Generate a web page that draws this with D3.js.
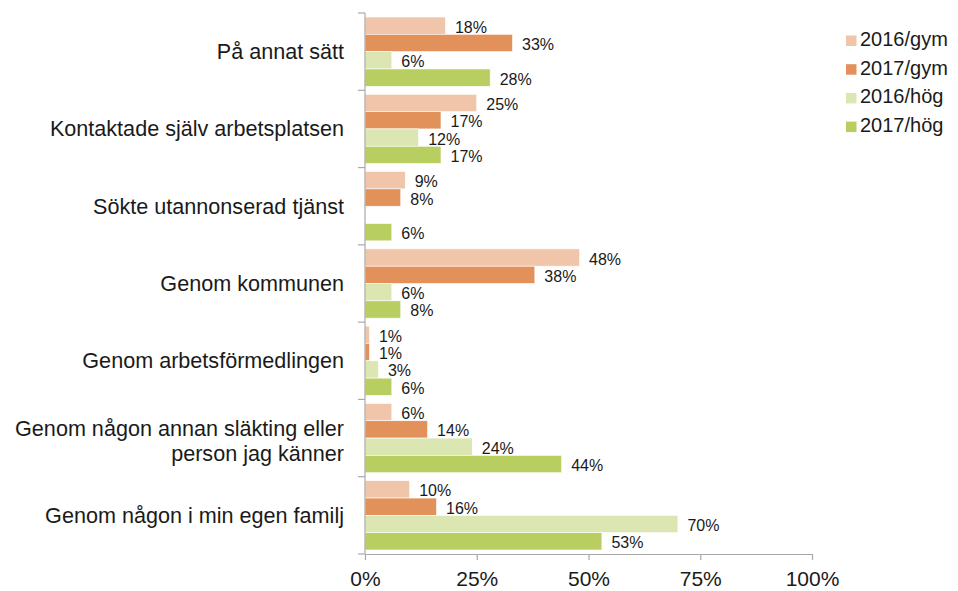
<!DOCTYPE html>
<html>
<head>
<meta charset="utf-8">
<script src="https://cdn.jsdelivr.net/npm/d3@7"></script>
<style>
  html, body { margin: 0; padding: 0; background: #fff; }
  svg { display: block; font-family: Arial, "Liberation Sans", sans-serif; }
</style>
</head>
<body>
<svg id="chart" width="958" height="591"></svg>
<script>
// Categories (top to bottom) and their label lines
const categories = [
  "På annat sätt",
  "Kontaktade själv arbetsplatsen",
  "Sökte utannonserad tjänst",
  "Genom kommunen",
  "Genom arbetsförmedlingen",
  "Genom någon annan släkting eller person jag känner",
  "Genom någon i min egen familj"
];
const categoryLines = [
  ["På annat sätt"],
  ["Kontaktade själv arbetsplatsen"],
  ["Sökte utannonserad tjänst"],
  ["Genom kommunen"],
  ["Genom arbetsförmedlingen"],
  ["Genom någon annan släkting eller", "person jag känner"],
  ["Genom någon i min egen familj"]
];

const seriesNames = ["2016/gym", "2017/gym", "2016/hög", "2017/hög"];
const seriesColors = ["#F1C5A9", "#E2915A", "#DCE6B2", "#B9CE61"];

// Percent per category, one array per series (null = no bar)
const gym2016 = [18, 25, 9, 48, 1, 6, 10];
const gym2017 = [33, 17, 8, 38, 1, 14, 16];
const hog2016 = [6, 12, null, 6, 3, 24, 70];
const hog2017 = [28, 17, 6, 8, 6, 44, 53];
const seriesValues = [gym2016, gym2017, hog2016, hog2017];

const xTicks = [0, 25, 50, 75, 100];

const svg = d3.select("#chart");
const axisColor = "#A9A9A9";

const x = d3.scaleLinear().domain([0, 100]).range([365, 812]);
const y = d3.scaleBand().domain(categories).range([13, 554]).padding(0);
const inner = d3.scaleBand().domain(seriesNames)
  .range([4, y.bandwidth() - 4]).padding(0);

// Bars and value labels
const rows = [];
categories.forEach((c, ci) => {
  seriesNames.forEach((s, si) => {
    const v = seriesValues[si][ci];
    if (v !== null) rows.push({ c, s, si, v });
  });
});

svg.append("g").selectAll("rect").data(rows).join("rect")
  .attr("x", x(0))
  .attr("y", d => y(d.c) + inner(d.s))
  .attr("width", d => x(d.v) - x(0))
  .attr("height", inner.bandwidth())
  .attr("fill", d => seriesColors[d.si])
  .attr("stroke", "#ffffff")
  .attr("stroke-width", 0.6);

svg.append("g").selectAll("text").data(rows).join("text")
  .attr("x", d => x(d.v) + 9.5)
  .attr("y", d => y(d.c) + inner(d.s) + inner.bandwidth() / 2 + 7)
  .attr("font-size", 16)
  .attr("fill", "#1a1a1a")
  .text(d => d.v + "%");

// Vertical category axis with ticks at band boundaries
const yAxis = svg.append("g");
yAxis.append("line")
  .attr("x1", x(0)).attr("x2", x(0))
  .attr("y1", y.range()[0]).attr("y2", y.range()[1])
  .attr("stroke", axisColor).attr("stroke-width", 1.2);
const bounds = categories.map(c => y(c)).concat([y.range()[1]]);
yAxis.selectAll(".tk").data(bounds).join("line")
  .attr("x1", x(0) - 7).attr("x2", x(0))
  .attr("y1", d => d).attr("y2", d => d)
  .attr("stroke", axisColor).attr("stroke-width", 1.2);

// Category labels
const catG = svg.append("g");
categories.forEach((c, i) => {
  const lines = categoryLines[i];
  const cy = y(c) + y.bandwidth() / 2;
  const lh = 25;
  const t = catG.append("text")
    .attr("text-anchor", "end")
    .attr("font-size", 21.6)
    .attr("fill", "#1a1a1a");
  lines.forEach((ln, li) => {
    const off = (li - (lines.length - 1) / 2) * lh + 7.5 + (lines.length > 1 ? 2.5 : 0);
    t.append("tspan").attr("x", 344).attr("y", cy + off).text(ln);
  });
});

// Horizontal value axis
const xAxis = svg.append("g").attr("transform", `translate(0,${y.range()[1]})`)
  .call(d3.axisBottom(x).tickValues(xTicks).tickSize(6).tickSizeOuter(0)
    .tickFormat(d => d + "%"));
xAxis.select(".domain").attr("stroke", axisColor).attr("stroke-width", 1.2);
xAxis.selectAll(".tick line").attr("stroke", axisColor).attr("stroke-width", 1.2);
xAxis.selectAll(".tick text")
  .attr("font-size", 21)
  .attr("font-family", "Arial, 'Liberation Sans', sans-serif")
  .attr("fill", "#1a1a1a")
  .attr("dy", null)
  .attr("y", 32);

// Legend
const legend = svg.append("g");
seriesNames.forEach((s, i) => {
  const by = 46 + i * 28.7;
  legend.append("rect")
    .attr("x", 846).attr("y", by - 10.5)
    .attr("width", 10.5).attr("height", 10.5)
    .attr("fill", seriesColors[i]);
  legend.append("text")
    .attr("x", 860).attr("y", by)
    .attr("font-size", 20)
    .attr("fill", "#1a1a1a")
    .text(s);
});
</script>
</body>
</html>
